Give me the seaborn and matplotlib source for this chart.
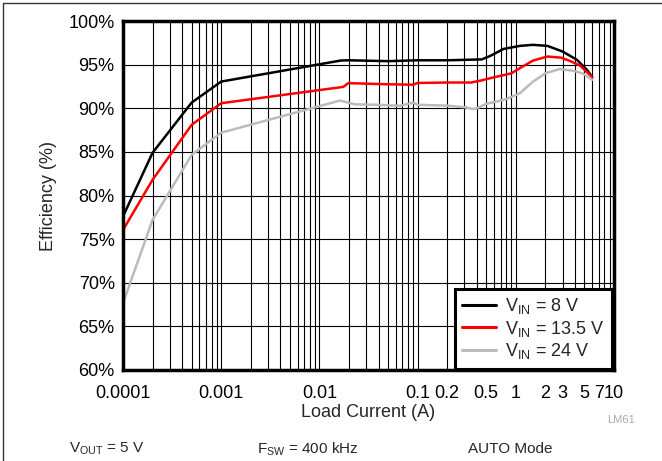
import matplotlib
matplotlib.use("Agg")
from matplotlib import pyplot as plt
from matplotlib.lines import Line2D
from matplotlib.ticker import FixedLocator, LogLocator, NullFormatter
import pandas as pd
import seaborn as sns

sns.set_style("white")
plt.rcParams["font.family"] = ["Liberation Sans", "DejaVu Sans"]
plt.rcParams["mathtext.default"] = "regular"

# efficiency curves
x_8v = [0.0001, 0.0002, 0.0005, 0.001, 0.0165, 0.02, 0.05, 0.1, 0.2, 0.45,
        0.55, 0.75, 1.1, 1.5, 2.1, 3.0, 4.2, 5.3, 6.0]
eff_8v = [77.6, 84.9, 90.65, 93.06, 95.47, 95.5, 95.4, 95.5, 95.5, 95.6,
          96.0, 96.8, 97.15, 97.27, 97.15, 96.5, 95.55, 94.4, 93.57]

x_135v = [0.0001, 0.0002, 0.0005, 0.001, 0.0175, 0.0197, 0.05, 0.09, 0.1, 0.2,
          0.35, 0.45, 0.55, 0.75, 0.9, 1.1, 1.5, 2.1, 2.9, 3.6, 4.5, 6.0]
eff_135v = [76.05, 81.8, 88.1, 90.58, 92.45, 92.88, 92.75, 92.7, 92.9, 92.95,
            92.95, 93.2, 93.45, 93.8, 94.0, 94.6, 95.47, 95.93, 95.8, 95.4, 94.9, 93.57]

x_24v = [0.0001, 0.0002, 0.0005, 0.001, 0.0162, 0.023, 0.04, 0.066, 0.09, 0.1,
         0.2, 0.31, 0.37, 0.42, 0.5, 0.57, 0.8, 1.1, 1.5, 2.0, 2.8, 3.8, 4.8, 6.0]
eff_24v = [67.65, 77.2, 84.66, 87.2, 90.88, 90.45, 90.4, 90.28, 90.65, 90.4,
           90.3, 90.1, 89.9, 90.1, 90.5, 90.65, 91.04, 91.73, 93.06, 94.0, 94.5, 94.3, 94.0, 93.26]

labels = [r"V$_{IN}$ = 8 V", r"V$_{IN}$ = 13.5 V", r"V$_{IN}$ = 24 V"]
colors = ["#000000", "#FF0000", "#BBBBBB"]

xticks = [0.0001, 0.001, 0.01, 0.1, 0.2, 0.5, 1, 2, 3, 5, 7, 10]
xticklabels = ["0.0001", "0.001", "0.01", "0.1", "0.2", "0.5", "1", "2", "3", "5", "7", "10"]
yticks = [60, 65, 70, 75, 80, 85, 90, 95, 100]
yticklabels = [f"{v}%" for v in yticks]

df = pd.concat([
    pd.DataFrame({"I": x_8v, "eff": eff_8v, "series": labels[0]}),
    pd.DataFrame({"I": x_135v, "eff": eff_135v, "series": labels[1]}),
    pd.DataFrame({"I": x_24v, "eff": eff_24v, "series": labels[2]}),
])

fig = plt.figure(figsize=(6.62, 4.61), dpi=100)
ax = fig.add_axes([0.1858, 0.1974, 0.7417, 0.757])

sns.lineplot(data=df, x="I", y="eff", hue="series", palette=colors,
             estimator=None, sort=False, linewidth=1.8, ax=ax)

ax.set_xscale("log")
ax.set_xlim(0.0001, 10)
ax.set_ylim(60, 100)

ax.xaxis.set_major_locator(FixedLocator(xticks))
ax.set_xticklabels(xticklabels)
ax.xaxis.set_minor_locator(LogLocator(base=10, subs=range(2, 10), numticks=20))
ax.xaxis.set_minor_formatter(NullFormatter())
ax.set_yticks(yticks)
ax.set_yticklabels(yticklabels)

ax.grid(True, which="both", axis="x", color="black", linewidth=0.8)
ax.grid(True, which="major", axis="y", color="black", linewidth=0.8)
ax.set_axisbelow(True)
ax.tick_params(which="both", length=0, labelsize=13, colors="black")
ax.tick_params(axis="x", pad=11)
ax.tick_params(axis="y", pad=6)

for s in ax.spines.values():
    s.set_visible(True)
    s.set_color("black")
    s.set_linewidth(2.5)

ax.set_xlabel("Load Current (A)", fontsize=13, labelpad=1)
ax.set_ylabel("Efficiency (%)", fontsize=13, labelpad=8)

handles, labs = ax.get_legend_handles_labels()
leg = ax.legend(handles, labs, loc="lower right", bbox_to_anchor=(0.995, 0.004),
                fontsize=13, frameon=True, fancybox=False, framealpha=1,
                edgecolor="black", handlelength=1.9, handletextpad=0.45,
                borderpad=0.4, labelspacing=0.15, borderaxespad=0)
leg.get_frame().set_linewidth(2.2)
for h in leg.get_lines():
    h.set_linewidth(2.2)

# bottom conditions
fig.text(69 / 662, 1 - 449 / 461, r"V$_{OUT}$ = 5 V", fontsize=11, va="center")
fig.text(257 / 662, 1 - 449 / 461, r"F$_{SW}$ = 400 kHz", fontsize=11, va="center")
fig.text(468 / 662, 1 - 449 / 461, "AUTO Mode", fontsize=11, va="center")
fig.text(607 / 662, 1 - 420 / 461, "LM61", fontsize=8, color="#AAAAAA", va="center")

# cell border lines at top and left
fig.add_artist(Line2D([0.0045, 1], [0.993, 0.993], transform=fig.transFigure,
                      color="#333333", linewidth=1))
fig.add_artist(Line2D([0.0045, 0.0045], [0, 0.993], transform=fig.transFigure,
                      color="#333333", linewidth=1))

fig.savefig("out.png", dpi=100)
